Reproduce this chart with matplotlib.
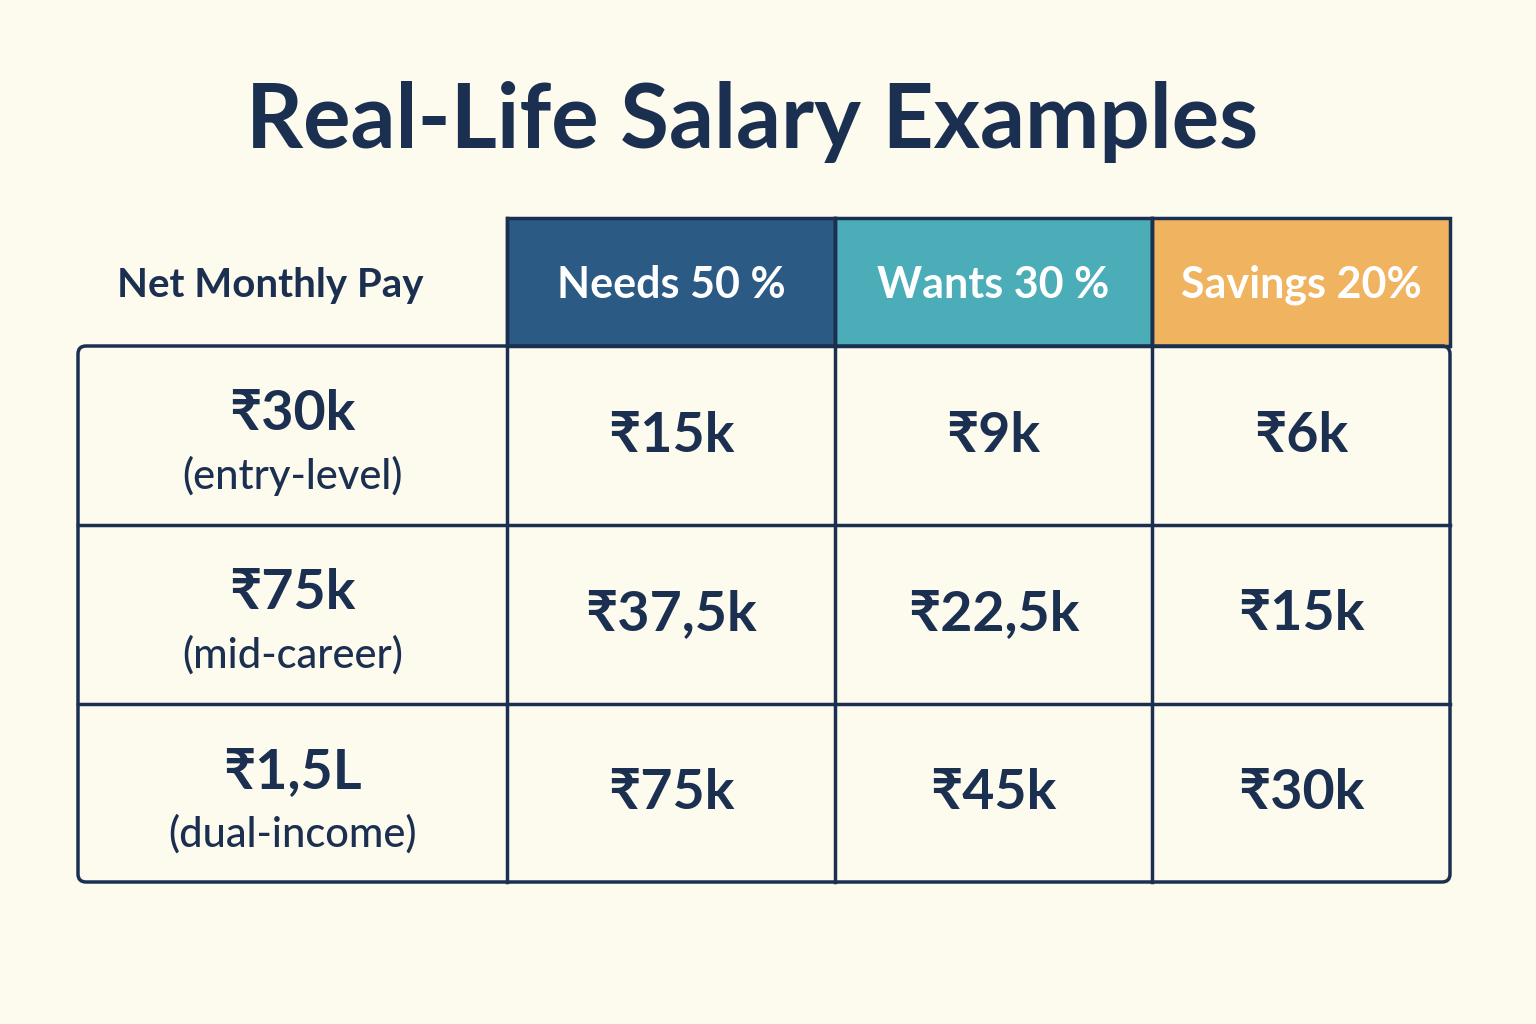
import matplotlib.pyplot as plt
from matplotlib.patches import Rectangle, FancyBboxPatch

title = "Real-Life Salary Examples"
row_header = "Net Monthly Pay"
columns = ["Needs 50 %", "Wants 30 %", "Savings 20%"]
pay = ["₹30k", "₹75k", "₹1,5L"]
pay_labels = ["(entry-level)", "(mid-career)", "(dual-income)"]
needs = ["₹15k", "₹37,5k", "₹75k"]
wants = ["₹9k", "₹22,5k", "₹45k"]
savings = ["₹6k", "₹15k", "₹30k"]

BG = "#FDFAEE"; INK = "#1B3050"
HEAD_COLORS = ["#2B5A85", "#4BADB8", "#F0B460"]
FAM = ["Lato", "DejaVu Sans"]

fig = plt.figure(figsize=(15.36, 10.24), dpi=100, facecolor=BG)
ax = fig.add_axes([0, 0, 1, 1]); ax.set_xlim(0, 1536); ax.set_ylim(1024, 0); ax.axis("off")

xs = [78, 507, 835, 1152, 1450]
ys = [346, 525, 704, 882]
hy = 218

ax.text(752, 122, title, ha="center", va="center", fontsize=64, fontweight="bold", color=INK, family=FAM)
ax.text(270, 285, row_header, ha="center", va="center", fontsize=29, fontweight="bold", color=INK, family=FAM)

for i, (c, col) in enumerate(zip(columns, HEAD_COLORS)):
    ax.add_patch(Rectangle((xs[i+1], hy), xs[i+2]-xs[i+1], ys[0]-hy, facecolor=col, edgecolor=INK, lw=2.5, zorder=1))
    ax.text((xs[i+1]+xs[i+2])/2, 285, c, ha="center", va="center", fontsize=31, fontweight="bold",
            color="white", family=FAM, zorder=3)

lw = 2.5
ax.add_patch(FancyBboxPatch((xs[0], ys[0]), xs[-1]-xs[0], ys[-1]-ys[0], boxstyle="round,pad=0,rounding_size=8",
                            facecolor="none", edgecolor=INK, lw=lw, zorder=2))
for y in ys[1:-1]:
    ax.plot([xs[0], xs[-1]], [y, y], color=INK, lw=lw, zorder=2)
for x in xs[1:-1]:
    ax.plot([x, x], [hy, ys[-1]], color=INK, lw=lw, zorder=2)

for r in range(3):
    y0, y1 = ys[r], ys[r+1]
    ax.text((xs[0]+xs[1])/2, y0+68, pay[r], ha="center", va="center", fontsize=40, fontweight="bold", color=INK, family=FAM)
    ax.text((xs[0]+xs[1])/2, y0+130, pay_labels[r], ha="center", va="center", fontsize=30, fontweight="medium", color=INK, family=FAM)
    for j, vals in enumerate([needs, wants, savings]):
        ax.text((xs[j+1]+xs[j+2])/2, (y0+y1)/2, vals[r], ha="center", va="center", fontsize=40,
                fontweight="bold", color=INK, family=FAM)

fig.savefig("out.png", dpi=100, facecolor=BG)
